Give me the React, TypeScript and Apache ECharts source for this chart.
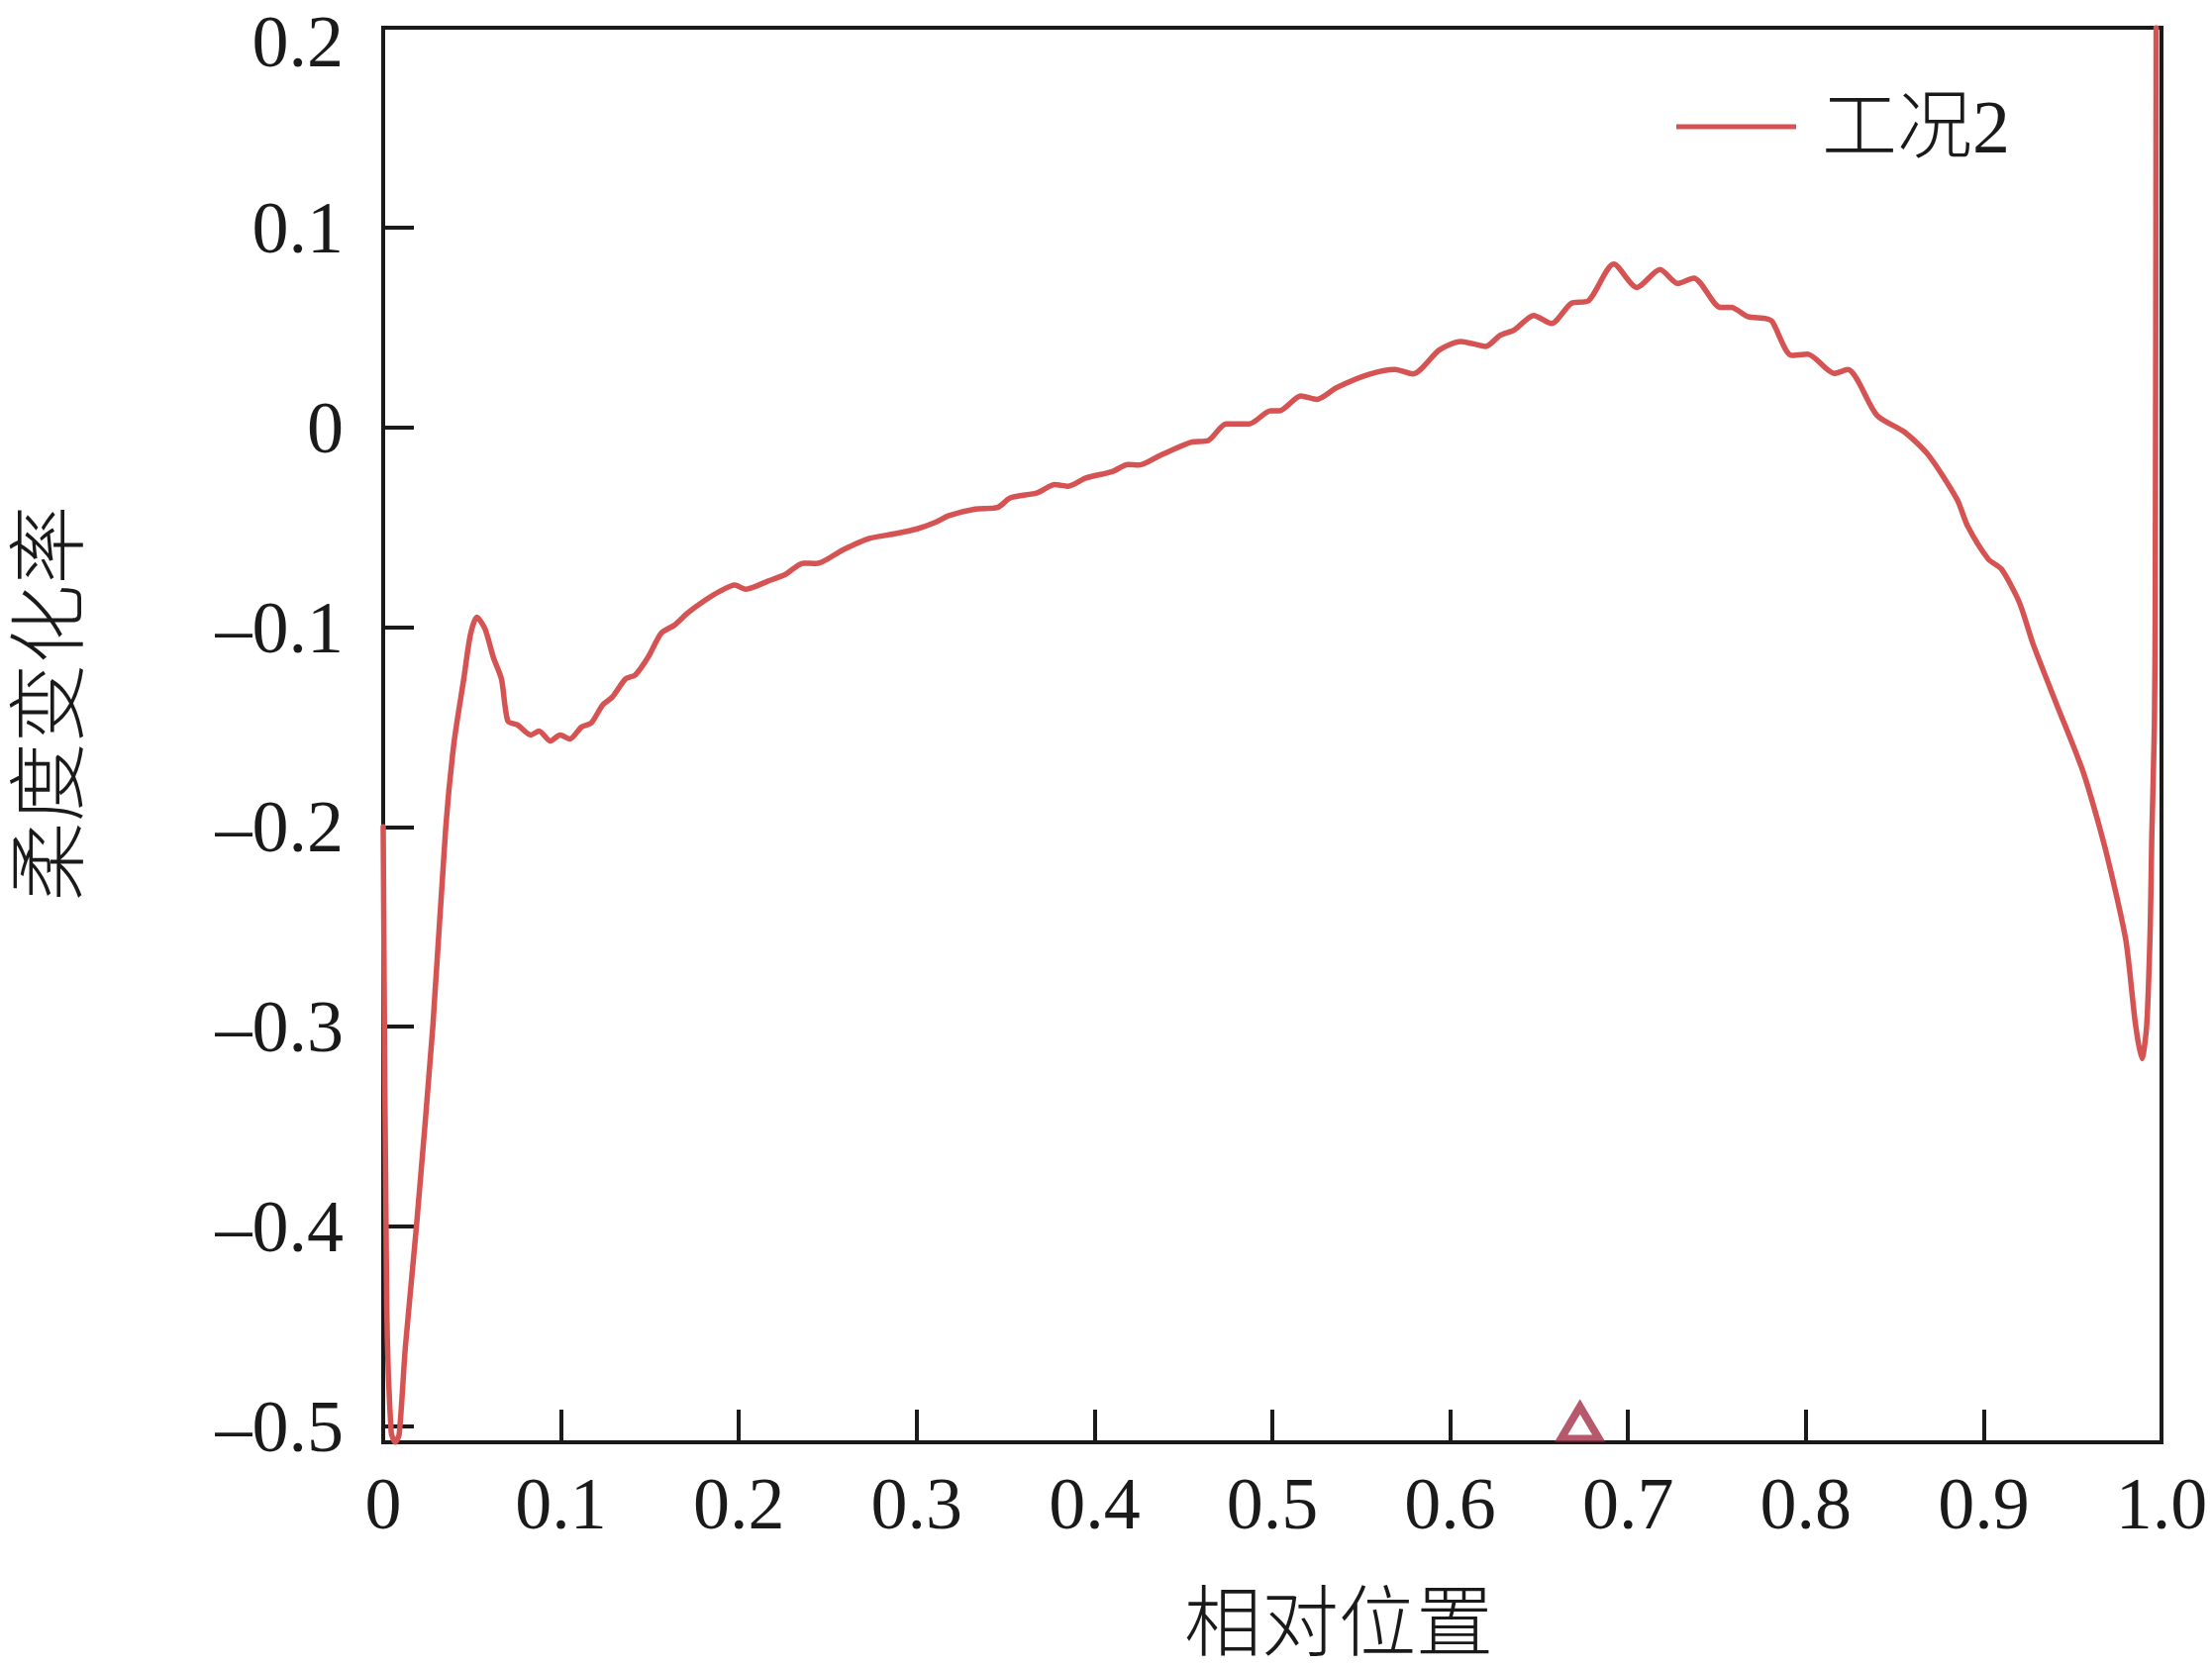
import React, { useEffect, useRef } from "react";
import * as echarts from "echarts";

// Relative position along the member (x) and compliance change rate (y)
const positions = [
  0, 0.002, 0.0045, 0.0068, 0.009, 0.0125, 0.0187, 0.0279, 0.0352, 0.0398,
  0.0453, 0.049, 0.0527, 0.0573, 0.0619, 0.0665, 0.0701, 0.0756, 0.083, 0.0876,
  0.094, 0.0995, 0.105, 0.1115, 0.117, 0.1234, 0.1289, 0.1362, 0.1417, 0.149,
  0.1564, 0.1638, 0.1711, 0.1803, 0.1895, 0.1977, 0.2038, 0.2163, 0.2262, 0.2362,
  0.2436, 0.2585, 0.2734, 0.2883, 0.3007, 0.3107, 0.3181, 0.333, 0.3455, 0.3529,
  0.3678, 0.3777, 0.3852, 0.3951, 0.4101, 0.4188, 0.425, 0.437, 0.4545, 0.464,
  0.474, 0.487, 0.499, 0.504, 0.516, 0.525, 0.536, 0.554, 0.569, 0.579,
  0.594, 0.606, 0.62, 0.628, 0.636, 0.647, 0.657, 0.668, 0.678, 0.692,
  0.705, 0.718, 0.728, 0.737, 0.752, 0.758, 0.7675, 0.777, 0.781, 0.792,
  0.801, 0.816, 0.8235, 0.84, 0.8557, 0.869, 0.885, 0.891, 0.9026, 0.91,
  0.92, 0.928, 0.941, 0.9556, 0.965, 0.972, 0.98, 0.9854, 0.989, 0.9917,
  0.9937, 0.9945, 0.996, 0.9965, 0.997,
];
const rates = [
  -0.2, -0.44, -0.503, -0.508, -0.504, -0.46, -0.4, -0.3, -0.2, -0.158,
  -0.126, -0.104, -0.095, -0.101, -0.115, -0.126, -0.147, -0.149, -0.154, -0.152,
  -0.157, -0.154, -0.156, -0.15, -0.148, -0.139, -0.135, -0.126, -0.124, -0.115,
  -0.103, -0.099, -0.093, -0.087, -0.082, -0.079, -0.081, -0.077, -0.0736, -0.068,
  -0.0682, -0.0613, -0.0556, -0.0532, -0.0507, -0.0475, -0.0442, -0.0409, -0.0401, -0.0352,
  -0.0328, -0.0287, -0.0295, -0.0254, -0.0221, -0.0186, -0.0189, -0.014, -0.0074, -0.0066,
  0.0017, 0.0017, 0.0083, 0.0083, 0.0157, 0.014, 0.0198, 0.0264, 0.0289, 0.0267,
  0.0388, 0.043, 0.0405, 0.046, 0.0487, 0.056, 0.052, 0.062, 0.0635, 0.0817,
  0.07, 0.079, 0.072, 0.0747, 0.06, 0.06, 0.0554, 0.0545, 0.053, 0.036,
  0.0366, 0.027, 0.0289, 0.006, -0.0025, -0.014, -0.036, -0.0495, -0.066, -0.071,
  -0.0875, -0.109, -0.1386, -0.1716, -0.1996, -0.224, -0.257, -0.299, -0.316, -0.299,
  -0.249, -0.206, -0.15, -0.084, 0.2,
];

const xTickValues = [0, 0.1, 0.2, 0.3, 0.4, 0.5, 0.6, 0.7, 0.8, 0.9, 1.0];
// ticks/labels along the y axis; the top one (0.2) sits on the frame and is drawn as a separate text
const yTickValues = [-0.5, -0.4, -0.3, -0.2, -0.1, 0, 0.1];
const yTopLabel = 0.2;
const markerPositions = [0.673];

const seriesName = "工况2";
const xName = "相对位置";
const yName = "柔度变化率";

const X_MIN = 0;
const X_MAX = 1;
const Y_MIN = -0.508;
const Y_MAX = 0.2;

const GRID_LEFT = 387;
const GRID_TOP = 28;
const LABEL_MARGIN = 40;

const INK = "#1a1a1a";
const LINE_COLOR = "#D65353";
const MARKER_COLOR = "#A52F47";
const SERIF = "'Liberation Serif', 'Times New Roman', serif";
const CJK = "'Liberation Serif', 'Noto Sans CJK SC', sans-serif";

const fmtX = (v: number) => (v === 0 ? "0" : v.toFixed(1));
const fmtY = (v: number) => {
  if (Math.abs(v) < 1e-9) return "0";
  return (v < 0 ? "\u2013" : "") + Math.abs(v).toFixed(1);
};

export default function App() {
  const ref = useRef<HTMLDivElement>(null);

  useEffect(() => {
    if (!ref.current) return;
    const chart = echarts.init(ref.current, null, { renderer: "svg" });
    const lineData = positions.map((x, i) => [x, rates[i]]);
    const markerData = markerPositions.map((x) => [x, Y_MIN]);

    chart.setOption({
      animation: false,
      backgroundColor: "#ffffff",
      grid: {
        left: GRID_LEFT,
        top: GRID_TOP,
        right: 51,
        bottom: 224,
        show: true,
        borderColor: INK,
        borderWidth: 4,
        backgroundColor: "transparent",
      },
      legend: {
        data: [{ name: seriesName, icon: "rect", itemStyle: { color: LINE_COLOR } }],
        left: 1688,
        top: 85,
        itemWidth: 121,
        itemHeight: 5,
        textStyle: {
          fontFamily: CJK,
          fontWeight: 300,
          fontSize: 76,
          color: INK,
          padding: [0, 0, 0, 21],
        },
      },
      xAxis: {
        type: "value",
        min: X_MIN,
        max: X_MAX,
        name: xName,
        nameLocation: "middle",
        nameGap: 144,
        nameTextStyle: {
          fontFamily: CJK,
          fontWeight: 300,
          fontSize: 78,
          color: INK,
          padding: [0, 0, 0, 134],
        },
        axisLine: { show: true, onZero: false, lineStyle: { color: INK, width: 4 } },
        axisTick: {
          show: true,
          inside: true,
          length: 33,
          lineStyle: { color: INK, width: 4 },
          customValues: xTickValues.slice(1, -1),
        },
        axisLabel: {
          customValues: xTickValues,
          formatter: fmtX,
          fontFamily: SERIF,
          fontSize: 74,
          color: INK,
          margin: 25,
        },
        splitLine: { show: false },
      },
      yAxis: {
        type: "value",
        min: Y_MIN,
        max: Y_MAX,
        name: yName,
        nameLocation: "middle",
        nameGap: 297,
        nameRotate: 90,
        nameTextStyle: {
          fontFamily: CJK,
          fontWeight: 300,
          fontSize: 80,
          color: INK,
          padding: [0, 0, 0, 64],
        },
        axisLine: { show: true, onZero: false, lineStyle: { color: INK, width: 4 } },
        axisTick: {
          show: true,
          inside: true,
          length: 31,
          lineStyle: { color: INK, width: 4 },
          customValues: yTickValues,
        },
        axisLabel: {
          customValues: yTickValues,
          formatter: fmtY,
          fontFamily: SERIF,
          fontSize: 74,
          color: INK,
          margin: LABEL_MARGIN,
        },
        splitLine: { show: false },
      },
      graphic: [
        {
          type: "text",
          silent: true,
          style: {
            text: fmtY(yTopLabel),
            x: GRID_LEFT - LABEL_MARGIN,
            y: 42,
            align: "right",
            verticalAlign: "middle",
            fontFamily: SERIF,
            fontSize: 74,
            fill: INK,
          },
        },
      ],
      series: [
        {
          name: seriesName,
          type: "line",
          data: lineData,
          symbol: "none",
          showSymbol: false,
          smooth: 0.25,
          clip: true,
          lineStyle: { color: LINE_COLOR, width: 5.5, join: "round", cap: "round" },
          itemStyle: { color: LINE_COLOR },
          z: 3,
        },
        {
          name: "marker",
          type: "scatter",
          data: markerData,
          symbol: "triangle",
          symbolSize: [38, 32],
          symbolOffset: [0, -20],
          clip: false,
          silent: true,
          itemStyle: { color: "#ffffff", borderColor: MARKER_COLOR, borderWidth: 7.5 },
          z: 5,
        },
      ],
    });

    return () => chart.dispose();
  }, []);

  return (
    <div
      ref={ref}
      style={{ position: "fixed", left: 0, top: 0, width: 2234, height: 1684, background: "#fff" }}
    />
  );
}
